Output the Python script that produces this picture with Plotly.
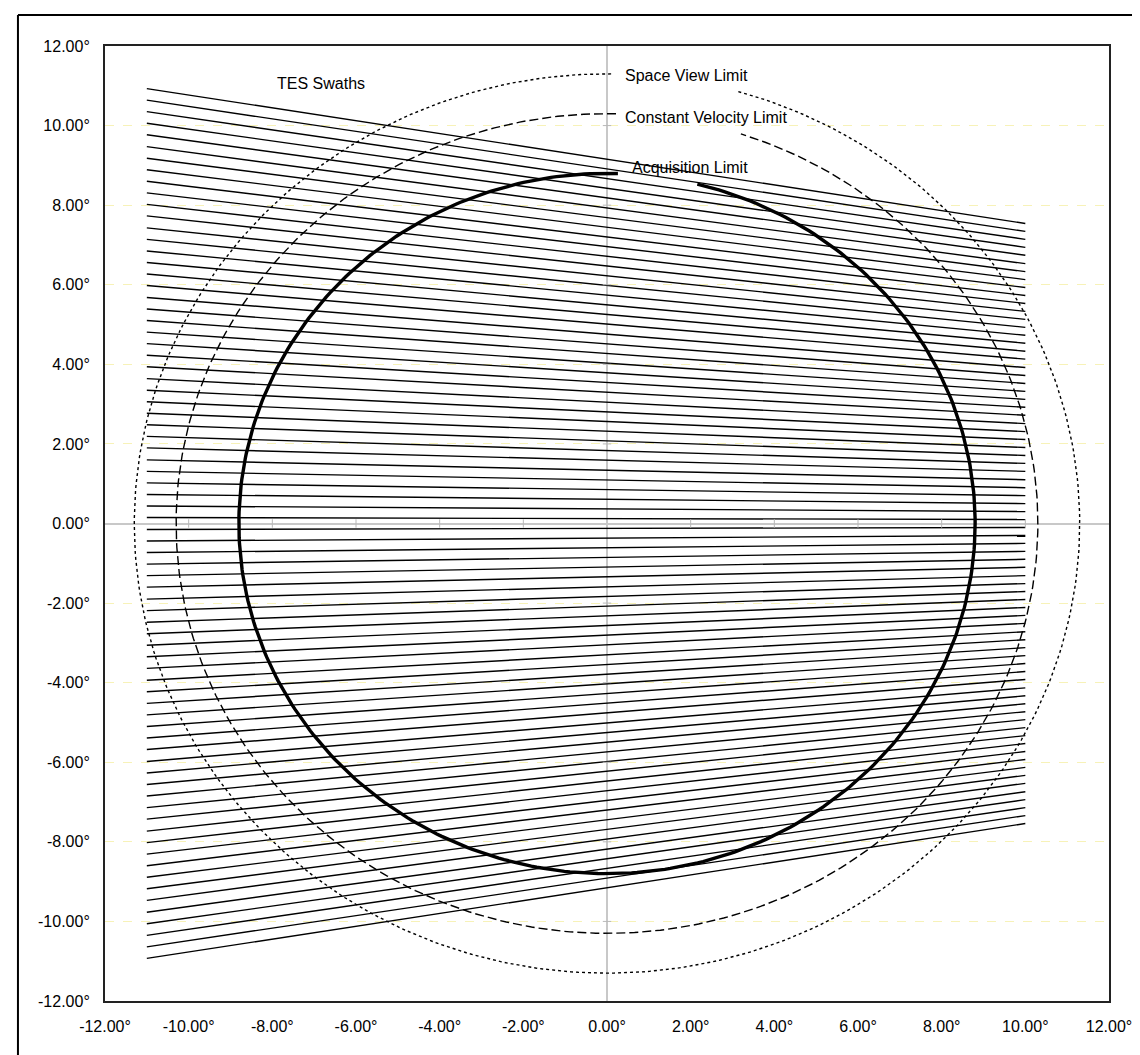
import numpy as np
import plotly.graph_objects as go

# ---------------- data ----------------
tick_vals = [-12, -10, -8, -6, -4, -2, 0, 2, 4, 6, 8, 10, 12]
tick_text = ["-12.00°", "-10.00°", "-8.00°", "-6.00°", "-4.00°", "-2.00°", "0.00°",
             "2.00°", "4.00°", "6.00°", "8.00°", "10.00°", "12.00°"]

swath_x_start = -11.0
swath_x_end = 10.0
swath_left_y = [10.93, 10.64, 10.35, 10.06, 9.77, 9.47, 9.18, 8.89, 8.60, 8.31,
                8.02, 7.73, 7.43, 7.14, 6.85, 6.56, 6.27, 5.98, 5.68, 5.39,
                5.10, 4.81, 4.52, 4.23, 3.94, 3.64, 3.35, 3.06, 2.77, 2.48,
                2.19, 1.90, 1.60, 1.31, 1.02, 0.73, 0.44, 0.15,
                -0.15, -0.44, -0.73, -1.02, -1.31, -1.60, -1.90, -2.19, -2.48, -2.77,
                -3.06, -3.35, -3.64, -3.94, -4.23, -4.52, -4.81, -5.10, -5.39, -5.68,
                -5.98, -6.27, -6.56, -6.85, -7.14, -7.43, -7.73, -8.02, -8.31, -8.60,
                -8.89, -9.18, -9.47, -9.77, -10.06, -10.35, -10.64, -10.93]
swath_right_y = [7.54, 7.34, 7.14, 6.94, 6.74, 6.53, 6.33, 6.13, 5.93, 5.73,
                 5.53, 5.33, 5.13, 4.93, 4.73, 4.53, 4.33, 4.13, 3.92, 3.72,
                 3.52, 3.32, 3.12, 2.92, 2.72, 2.51, 2.31, 2.11, 1.91, 1.71,
                 1.51, 1.31, 1.10, 0.90, 0.70, 0.50, 0.30, 0.10,
                 -0.10, -0.30, -0.50, -0.70, -0.90, -1.10, -1.31, -1.51, -1.71, -1.91,
                 -2.11, -2.31, -2.51, -2.72, -2.92, -3.12, -3.32, -3.52, -3.72, -3.92,
                 -4.13, -4.33, -4.53, -4.73, -4.93, -5.13, -5.33, -5.53, -5.73, -5.93,
                 -6.13, -6.33, -6.53, -6.74, -6.94, -7.14, -7.34, -7.54]

limit_names = ["Space View Limit", "Constant Velocity Limit", "Acquisition Limit"]
limit_radii = [11.3, 10.3, 8.8]
# arc drawn from start angle counter-clockwise to end angle (degrees); gap near the top
limit_arc_start = [89.5, 88.8, 88.3]
limit_arc_end = [434.0, 431.9, 435.8]
limit_label_x = [0.38, 0.38, 0.54]
limit_label_y = [11.27, 10.2, 8.95]

swath_label = "TES Swaths"
swath_label_x = -6.84
swath_label_y = 11.05

# ---------------- styles ----------------
limit_dash = ["3px,3px", "9px,4px", "solid"]
limit_width = [1.4, 1.4, 3.4]
FONT = "Liberation Sans, Arial, sans-serif"
AXIS_GRAY = "#b8b8b8"

fig = go.Figure()

# swaths
sx, sy = [], []
for yl, yr in zip(swath_left_y, swath_right_y):
    sx += [swath_x_start, swath_x_end, None]
    sy += [yl, yr, None]
fig.add_trace(go.Scatter(x=sx, y=sy, mode="lines",
                         line=dict(color="black", width=1.4),
                         hoverinfo="skip", showlegend=False))

# limit arcs
for name, r, a0, a1, dash, w in zip(limit_names, limit_radii, limit_arc_start,
                                     limit_arc_end, limit_dash, limit_width):
    th = np.radians(np.linspace(a0, a1, 400))
    fig.add_trace(go.Scatter(x=r * np.cos(th), y=r * np.sin(th), mode="lines",
                             name=name, line=dict(color="black", width=w, dash=dash),
                             showlegend=False))

# small tick marks along the zero axes
minor_ticks = [v for v in tick_vals if v not in (-12, 0, 12)]
fig.add_trace(go.Scatter(x=minor_ticks, y=[0] * len(minor_ticks), mode="markers",
                         marker=dict(symbol="line-ns-open", size=6, color=AXIS_GRAY,
                                     line=dict(color=AXIS_GRAY, width=1)),
                         hoverinfo="skip", showlegend=False))
fig.add_trace(go.Scatter(x=[0] * len(minor_ticks), y=minor_ticks, mode="markers",
                         marker=dict(symbol="line-ew-open", size=6, color=AXIS_GRAY,
                                     line=dict(color=AXIS_GRAY, width=1)),
                         hoverinfo="skip", showlegend=False))

# labels
for name, lx, ly in zip(limit_names, limit_label_x, limit_label_y):
    fig.add_annotation(x=lx, y=ly, text=name, showarrow=False, xanchor="left",
                       yanchor="middle", font=dict(family=FONT, size=16, color="black"))
fig.add_annotation(x=swath_label_x, y=swath_label_y, text=swath_label, showarrow=False,
                   xanchor="center", yanchor="middle",
                   font=dict(family=FONT, size=16, color="black"))

axis_common = dict(range=[-12, 12], tickvals=tick_vals, ticktext=tick_text,
                   showline=True, linecolor="#222222", linewidth=2, mirror=True,
                   zeroline=True, zerolinecolor="#c8c8c8", zerolinewidth=1.5,
                   ticks="", ticklabelstandoff=10,
                   tickfont=dict(family=FONT, size=16, color="black"))

fig.update_xaxes(showgrid=False, **axis_common)
fig.update_yaxes(showgrid=True, gridcolor="#f7f2b8", griddash="dash", gridwidth=1,
                 **axis_common)

# outer frame (left and top edges visible)
fig.add_shape(type="line", xref="paper", yref="paper", x0=-0.0867, x1=1.2,
              y0=1.0325, y1=1.0325, line=dict(color="black", width=2))
fig.add_shape(type="line", xref="paper", yref="paper", x0=-0.0867, x1=-0.0867,
              y0=1.0325, y1=-0.2, line=dict(color="black", width=2))

fig.update_layout(width=1140, height=1055,
                  margin=dict(l=97, r=39, t=38, b=62),
                  paper_bgcolor="white", plot_bgcolor="white",
                  showlegend=False)

fig.write_html("out.html")
